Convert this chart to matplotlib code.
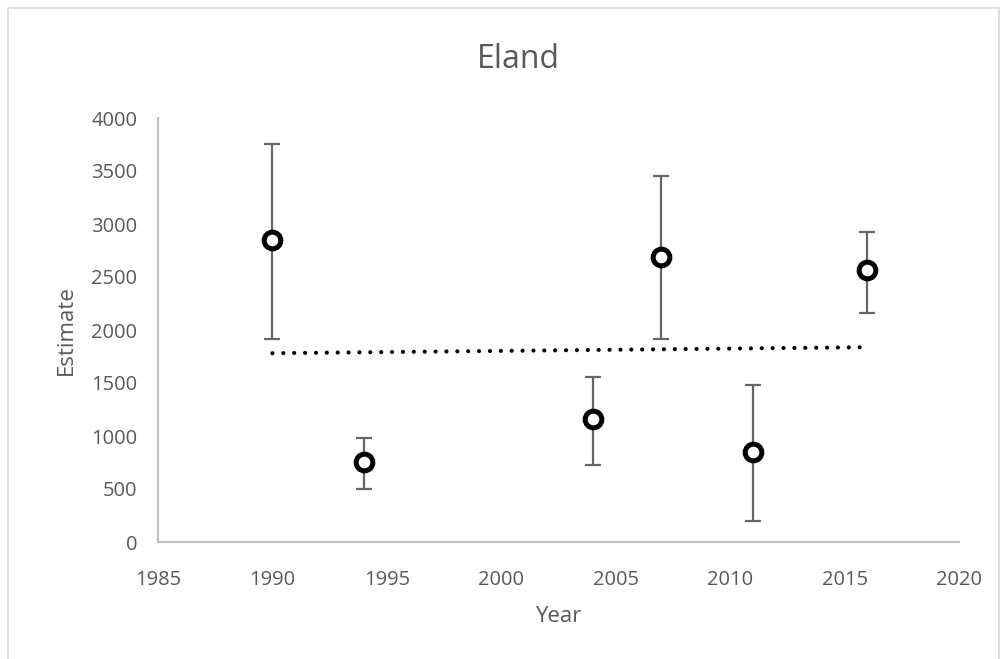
import numpy as np
import matplotlib
matplotlib.use("Agg")
import matplotlib.pyplot as plt
from matplotlib.patches import Rectangle

plt.rcParams['font.family'] = ['Open Sans', 'DejaVu Sans']

years = [1990, 1994, 2004, 2007, 2011, 2016]
estimate = [2846, 752, 1157, 2692, 852, 2566]
lower = [1912, 497, 726, 1912, 198, 2163]
upper = [3755, 978, 1553, 3453, 1481, 2925]

text_col = '#595959'
axis_col = '#BFBFBF'

fig = plt.figure(figsize=(10.04, 6.59), dpi=100)
ax = fig.add_axes([158/1004, 1-542/659, (959-158)/1004, (542-118)/659])

yerr = [np.array(estimate) - np.array(lower), np.array(upper) - np.array(estimate)]
ax.errorbar(years, estimate, yerr=yerr, fmt='none', ecolor='#666666',
            elinewidth=1.6, capsize=6, capthick=1.6, zorder=2)
ax.plot(years, estimate, 'o', ms=12, mfc='white', mec='black', mew=3.6, zorder=3)

# linear trendline
k, b = np.polyfit(years, estimate, 1)
tx = np.array([years[0], years[-1]])
ax.plot(tx, k*tx + b, color='black', lw=3, linestyle=(0, (0.01, 2.6)),
        dash_capstyle='round', zorder=1)

ax.set_xlim(1985, 2020)
ax.set_ylim(0, 4000)
ax.set_xticks(range(1985, 2021, 5))
ax.set_yticks(range(0, 4001, 500))
ax.tick_params(length=0, labelsize=14.5, colors=text_col)
ax.tick_params(axis='x', pad=20)
ax.tick_params(axis='y', pad=15)
for s in ['top', 'right']:
    ax.spines[s].set_visible(False)
for s in ['left', 'bottom']:
    ax.spines[s].set_color(axis_col)
    ax.spines[s].set_linewidth(1.5)

ax.set_xlabel('Year', fontsize=16, color=text_col, labelpad=12)
ax.set_ylabel('Estimate', fontsize=16, color=text_col, labelpad=10)
fig.text(518/1004, 1-60/659, 'Eland', fontsize=23, color=text_col,
         ha='center', va='center')

fig.patches.append(Rectangle((8/1004, -0.05), 991/1004, 1.05-8/659,
                             transform=fig.transFigure, fill=False,
                             edgecolor='#D9D9D9', lw=1.2))

plt.savefig('out.png', dpi=100)
